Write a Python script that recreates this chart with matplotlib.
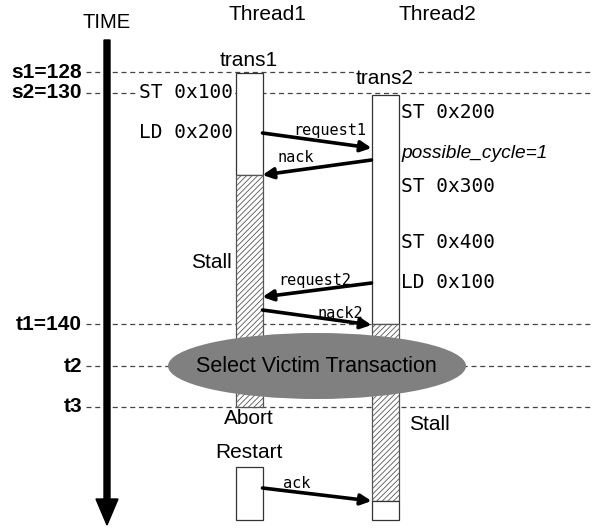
import matplotlib
matplotlib.use("Agg")
import matplotlib.pyplot as plt
from matplotlib.patches import Rectangle, Ellipse

# time marks (label, y in pixel space)
time_labels = ["s1=128", "s2=130", "t1=140", "t2", "t3"]
time_y = [72, 93, 324, 366, 407]

# thread lanes
thread_names = ["Thread1", "Thread2"]
thread_x = [249, 385]
box_w = 27

# segments of each lane: (lane, y0, y1, kind)
seg_lane = [0, 0, 0, 1, 1, 1]
seg_y0 = [73, 175, 467, 95, 324, 501]
seg_y1 = [175, 407, 520, 324, 501, 520]
seg_kind = ["busy", "stall", "busy", "busy", "stall", "busy"]

# messages between lanes: (label, from lane, y_from, y_to, label x, label y)
msg_labels = ["request1", "nack", "request2", "nack2", "ack"]
msg_from = [0, 1, 1, 0, 0]
msg_y0 = [133, 160, 283, 310, 488]
msg_y1 = [148, 175, 297, 325, 501]
msg_lx = [330, 296, 315, 340, 297]
msg_ly = [130, 157, 280, 313, 483]

# instructions
left_ops = ["ST 0x100", "LD 0x200"]
left_ops_y = [93, 133]
right_ops = ["ST 0x200", "possible_cycle=1", "ST 0x300", "ST 0x400", "LD 0x100"]
right_ops_y = [113, 154, 187, 242, 282]

sans = "Liberation Sans"
mono = "DejaVu Sans Mono"

plt.rcParams["hatch.color"] = "#555555"
plt.rcParams["hatch.linewidth"] = 0.6

fig = plt.figure(figsize=(5.94, 5.29), dpi=100)
ax = fig.add_axes([0, 0, 1, 1])
ax.set_xlim(0, 594)
ax.set_ylim(529, 0)
ax.axis("off")

# dashed time lines
for lab, y in zip(time_labels, time_y):
    ax.plot([86, 594], [y, y], ls=(0, (4, 3)), color="#444444", lw=0.9, zorder=1)
    ax.text(82, y, lab, ha="right", va="center", fontsize=15, fontweight="bold",
            family=sans, zorder=5)

# time arrow
ax.text(107, 22, "TIME", ha="center", va="center", fontsize=14.5, family=sans)
ax.arrow(107, 40, 0, 485, width=6, head_width=22, head_length=26,
         length_includes_head=True, color="black", zorder=6)

# thread headers
for name, x in zip(thread_names, [267, 437]):
    ax.text(x, 14, name, ha="center", va="center", fontsize=15, family=sans)

# lane boxes
for lane, y0, y1, kind in zip(seg_lane, seg_y0, seg_y1, seg_kind):
    x0 = thread_x[lane] - box_w / 2
    if kind == "stall":
        r = Rectangle((x0, y0), box_w, y1 - y0, facecolor="white",
                      edgecolor="#555555", hatch="//////", lw=0.9, zorder=3)
    else:
        r = Rectangle((x0, y0), box_w, y1 - y0, facecolor="white",
                      edgecolor="#333333", lw=0.9, zorder=3)
    ax.add_patch(r)

ax.text(249, 60, "trans1", ha="center", va="center", fontsize=15, family=sans, zorder=5)
ax.text(385, 78, "trans2", ha="center", va="center", fontsize=15, family=sans, zorder=5,
        bbox=dict(facecolor="white", edgecolor="none", pad=1))

# messages
for lab, src, y0, y1, lx, ly in zip(msg_labels, msg_from, msg_y0, msg_y1, msg_lx, msg_ly):
    xa = thread_x[src] + (box_w / 2 if src == 0 else -box_w / 2)
    xb = thread_x[1 - src] + (box_w / 2 if src == 1 else -box_w / 2)
    ax.annotate("", xy=(xb, y1), xytext=(xa, y0),
                arrowprops=dict(arrowstyle="-|>", lw=2.6, color="black",
                                mutation_scale=16, shrinkA=0, shrinkB=0),
                zorder=4)
    ax.text(lx, ly, lab, ha="center", va="center", fontsize=11, family=mono, zorder=5)

# instructions
for op, y in zip(left_ops, left_ops_y):
    ax.text(233, y, op, ha="right", va="center", fontsize=14, family=mono, zorder=5,
            bbox=dict(facecolor="white", edgecolor="none", pad=1))
for op, y in zip(right_ops, right_ops_y):
    if op.startswith("possible"):
        ax.text(401, y, op, ha="left", va="center", fontsize=13.8, family=sans,
                style="italic", zorder=5)
    else:
        ax.text(401, y, op, ha="left", va="center", fontsize=14, family=mono, zorder=5)

# state labels
ax.text(232, 262, "Stall", ha="right", va="center", fontsize=15, family=sans, zorder=5)
ax.text(249, 418, "Abort", ha="center", va="center", fontsize=15, family=sans, zorder=5)
ax.text(249, 452, "Restart", ha="center", va="center", fontsize=15, family=sans, zorder=5)
ax.text(409, 424, "Stall", ha="left", va="center", fontsize=15, family=sans, zorder=5)

# victim selection
ax.add_patch(Ellipse((317, 366), 298, 66, facecolor="#808080", edgecolor="none", zorder=7))
ax.text(316, 366, "Select Victim Transaction", ha="center", va="center",
        fontsize=15.5, family=sans, zorder=8)

fig.savefig("out.png", dpi=100)
